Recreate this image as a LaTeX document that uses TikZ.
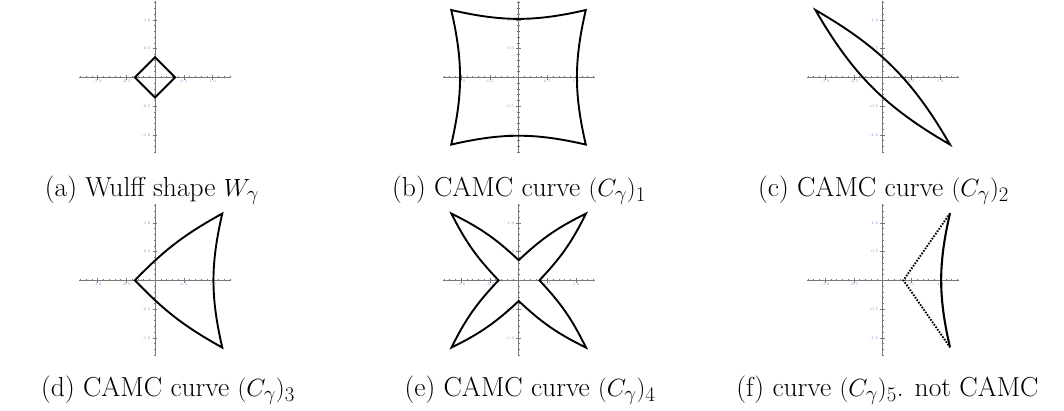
\documentclass[tikz,border=0pt]{standalone}
\definecolor{axisgray}{RGB}{120,120,120}
\definecolor{ticklab}{RGB}{130,130,215}
\tikzset{
  curve/.style={line width=1.9pt, black, line join=miter},
  dotcurve/.style={line width=1.9pt, black, dash pattern=on 1.6pt off 1.4pt},
  axisline/.style={axisgray, line width=0.8pt},
  tickline/.style={axisgray, line width=0.5pt},
  ticklabel/.style={ticklab, font=\fontsize{3.8}{3.8}\selectfont, inner sep=0.3pt},
  caption/.style={font=\fontsize{27.5}{32}\selectfont, anchor=base, inner sep=0pt},
  panel/.style={x=57.5pt, y=57.5pt},
}
\newcommand{\drawPanelAxes}{%
  \draw[axisline] (-1.32,0) -- (1.33,0);
  \draw[axisline] (0,-1.32) -- (0,1.32);
  \foreach \t in {-13,...,13}{%
    \draw[tickline] (\t/10,-0.018) -- (\t/10,0.018);
    \draw[tickline] (-0.018,\t/10) -- (0.018,\t/10);
  }
  \foreach \t/\s in {-10/-1.0,-5/-0.5,5/0.5,10/1.0}{%
    \draw[tickline] (\t/10,-0.04) -- (\t/10,0.04);
    \draw[tickline] (-0.04,\t/10) -- (0.04,\t/10);
    \node[ticklabel, anchor=north] (xl\t) at (\t/10,-0.03) {\s};
    \node[ticklabel, anchor=east] (yl\t) at (-0.07,\t/10) {\s};
  }
}
\begin{document}
\begin{tikzpicture}
\useasboundingbox (0,0) rectangle (1064pt,410pt);

% (a) Wulff shape
\begin{scope}[panel, shift={(155pt,332.7pt)}]
  \drawPanelAxes
  \draw[curve] (0.35,0) -- (0,0.35) -- (-0.35,0) -- (0,-0.35) -- cycle;
\end{scope}

% (b)
\begin{scope}[panel, shift={(518.5pt,332.7pt)}]
  \drawPanelAxes
  \draw[curve] (1.17,1.17) to[bend left=13] (-1.17,1.17) to[bend left=13] (-1.17,-1.17)
     to[bend left=13] (1.17,-1.17) to[bend left=13] (1.17,1.17) -- cycle;
\end{scope}

% (c)
\begin{scope}[panel, shift={(882.7pt,332.7pt)}]
  \drawPanelAxes
  \draw[curve] (-1.17,1.17) to[bend left=15] (1.17,-1.17) to[bend left=15] (-1.17,1.17) -- cycle;
\end{scope}

% (d)
\begin{scope}[panel, shift={(155pt,129.7pt)}]
  \drawPanelAxes
  \draw[curve] (-0.35,0) to[bend left=8.5] (1.17,1.16) to[bend right=13] (1.17,-1.17)
     to[bend left=8.5] (-0.35,0) -- cycle;
\end{scope}

% (e)
\begin{scope}[panel, shift={(518.7pt,129.7pt)}]
  \drawPanelAxes
  \draw[curve] (0,0.35) to[bend left=8.5] (1.17,1.16) to[bend left=8.5] (0.36,0)
     to[bend left=8.5] (1.17,-1.17) to[bend left=8.5] (0,-0.36)
     to[bend left=8.5] (-1.17,-1.17) to[bend left=8.5] (-0.35,0)
     to[bend left=8.5] (-1.17,1.16) to[bend left=8.5] (0,0.35) -- cycle;
\end{scope}

% (f)
\begin{scope}[panel, shift={(882.7pt,129.7pt)}]
  \drawPanelAxes
  \draw[dotcurve] (1.17,1.165) -- (0.36,0) -- (1.17,-1.165);
  \draw[curve, line width=2.1pt] (1.17,1.165) to[bend right=13] (1.17,-1.165);
\end{scope}

% captions
\node[caption] (capa) at (152pt,213.3pt) {(a) Wulff shape $W_\gamma$};
\node[caption] (capb) at (519pt,213.3pt) {(b) CAMC curve $(C_\gamma)_1$};
\node[caption] (capc) at (883.5pt,213.3pt) {(c) CAMC curve $(C_\gamma)_2$};
\node[caption] (capd) at (168pt,13.3pt) {(d) CAMC curve $(C_\gamma)_3$};
\node[caption] (cape) at (530pt,13.3pt) {(e) CAMC curve $(C_\gamma)_4$};
\node[caption] (capf) at (887.5pt,13.3pt) {(f) curve $(C_\gamma)_5$. not CAMC};
\end{tikzpicture}
\end{document}
